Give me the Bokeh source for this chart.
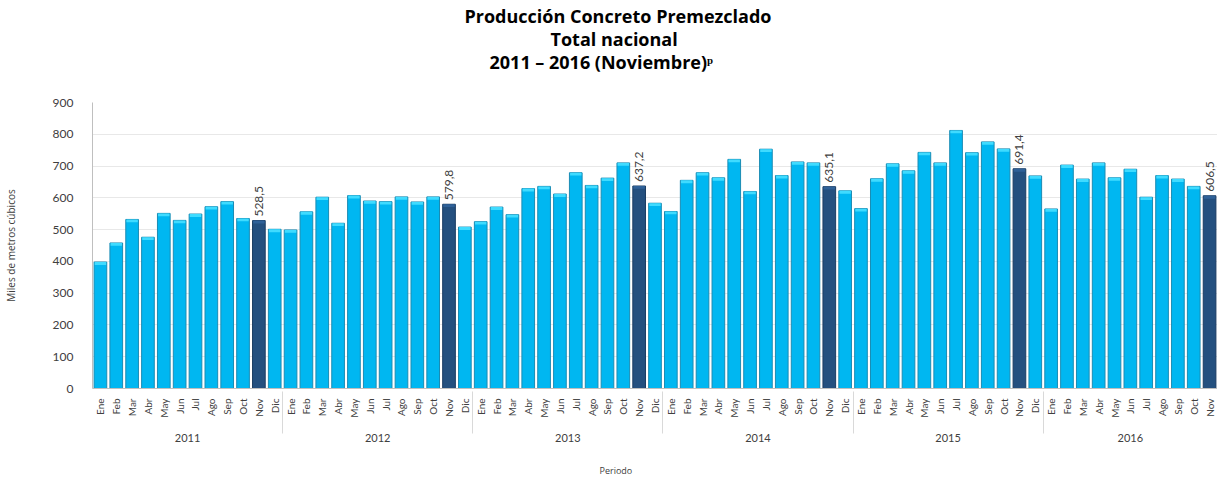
from math import pi
from bokeh.plotting import figure
from bokeh.models import FactorRange, Range1d, ColumnDataSource, SingleIntervalTicker, Title
from bokeh.core.properties import value
from bokeh.embed import file_html
from bokeh.resources import INLINE

# ---------------- data ----------------
months = ["Ene", "Feb", "Mar", "Abr", "May", "Jun", "Jul", "Ago", "Sep", "Oct", "Nov", "Dic"]
years = ["2011", "2012", "2013", "2014", "2015", "2016"]
v2011 = [398, 458, 532, 476, 551, 529, 549, 572, 588, 535, 528.5, 501]
v2012 = [499, 556, 602, 520, 607, 590, 588, 603, 587, 603, 579.8, 508]
v2013 = [525, 571, 547, 629, 636, 612, 679, 639, 662, 710, 637.2, 583]
v2014 = [557, 655, 679, 663, 721, 620, 753, 670, 713, 710, 635.1, 622]
v2015 = [566, 660, 707, 685, 743, 710, 812, 742, 776, 754, 691.4, 669]
v2016 = [565, 703, 659, 710, 663, 690, 602, 670, 659, 636, 606.5]
series = [v2011, v2012, v2013, v2014, v2015, v2016]
highlight_month = "Nov"
y_ticks_interval = 100

title_lines = ["Producción Concreto Premezclado", "Total nacional", "2011 – 2016 (Noviembre)ᵖ"]
y_label = "Miles de metros cúbicos"
x_label = "Periodo"

# ---------------- styles ----------------
CYAN = "#00B7F1"
CYAN_EDGE = "#1A8CB4"
CYAN_CAP = "#3FDBFF"
DARK = "#24507F"
DARK_EDGE = "#1B3C62"
DARK_CAP = "#2F6198"
FONT = "Lato"
TFONT = "Open Sans"
GAP = " "   # empty middle level: a thin spacing row between months and years

factors = [(y, GAP, m) for y, vals in zip(years, series) for m, _ in zip(months, vals)]
vals = [v for s in series for v in s]
is_hi = [f[2] == highlight_month for f in factors]

src = ColumnDataSource(dict(
    x=factors,
    top=vals,
    cap_bottom=[v - 9 for v in vals],
    fill=[DARK if h else CYAN for h in is_hi],
    edge=[DARK_EDGE if h else CYAN_EDGE for h in is_hi],
    cap=[DARK_CAP if h else CYAN_CAP for h in is_hi],
))
lab_src = ColumnDataSource(dict(
    x=[f for f, h in zip(factors, is_hi) if h],
    top=[v for v, h in zip(vals, is_hi) if h],
    label=[f"{v:.1f}".replace(".", ",") for v, h in zip(vals, is_hi) if h],
))

x_range = FactorRange(*factors, factor_padding=0, subgroup_padding=0,
                      group_padding=0, range_padding=0)

W, H = 1217, 477
FL, FT, FB = 91, 102, 388
p = figure(x_range=x_range, y_range=Range1d(0, 900), width=W, height=H,
           output_backend="svg", toolbar_location=None,
           min_border_left=FL, min_border_right=0, min_border_top=FT,
           min_border_bottom=H - FB)
p.outline_line_color = None
p.background_fill_color = "white"

p.vbar(x="x", top="top", bottom=0, width=0.8, source=src,
       fill_color="fill", line_color="edge", line_width=1)
p.vbar(x="x", top="top", bottom="cap_bottom", width=0.72, source=src,
       fill_color="cap", line_color=None)

p.text(x="x", y="top", text="label", source=lab_src, angle=pi / 2,
       text_align="left", text_baseline="middle", y_offset=-4,
       text_font=value(FONT), text_font_size="12px", text_color="#404040")

# grid
p.xgrid.grid_line_color = None
p.ygrid.grid_line_color = "#E8E8E8"

# y axis
ya = p.yaxis[0]
ya.ticker = SingleIntervalTicker(interval=y_ticks_interval)
ya.major_tick_line_color = None
ya.minor_tick_line_color = None
ya.axis_line_color = "#BFBFBF"
ya.major_label_text_font = FONT
ya.major_label_text_font_size = "12px"
ya.major_label_text_color = "#404040"
ya.major_label_standoff = 13
ya.axis_label = y_label
ya.axis_label_text_font = TFONT
ya.axis_label_text_font_size = "10px"
ya.axis_label_text_font_style = "normal"
ya.axis_label_text_color = "#404040"
ya.axis_label_standoff = 32

# x axis
xa = p.xaxis[0]
xa.major_label_orientation = pi / 2
xa.major_tick_line_color = None
xa.minor_tick_line_color = None
xa.axis_line_color = "#BFBFBF"
xa.major_label_text_font = FONT
xa.major_label_text_font_size = "10px"
xa.major_label_text_color = "#404040"
xa.major_label_standoff = 4
xa.subgroup_text_font = FONT
xa.subgroup_text_font_size = "2px"
xa.subgroup_text_color = "#404040"
xa.group_text_font = FONT
xa.group_text_font_size = "11px"
xa.group_text_font_style = "normal"
xa.group_text_color = "#404040"
xa.separator_line_color = "#D9D9D9"
xa.separator_line_width = 1

# x label: spacer under the axis, then the label, aligned like the reference
p.add_layout(Title(text=" ", standoff=9, text_font=TFONT, text_font_size="4px"), "below")
p.add_layout(Title(text=x_label, align="left", offset=507, standoff=0,
                   text_font=TFONT, text_font_size="9px", text_font_style="normal",
                   text_color="#404040"), "below")

# title: spacer nearest to the frame, then the three lines upwards
p.add_layout(Title(text=" ", standoff=14, text_font=TFONT, text_font_size="10px"), "above")
for txt, off in zip(reversed(title_lines), [397, 458, 372]):
    p.add_layout(Title(text=txt, align="left", offset=off, standoff=-3,
                       text_font=TFONT, text_font_size="18px", text_font_style="bold",
                       text_color="#000000"), "above")

open("out.html", "w").write(file_html(p, INLINE))
